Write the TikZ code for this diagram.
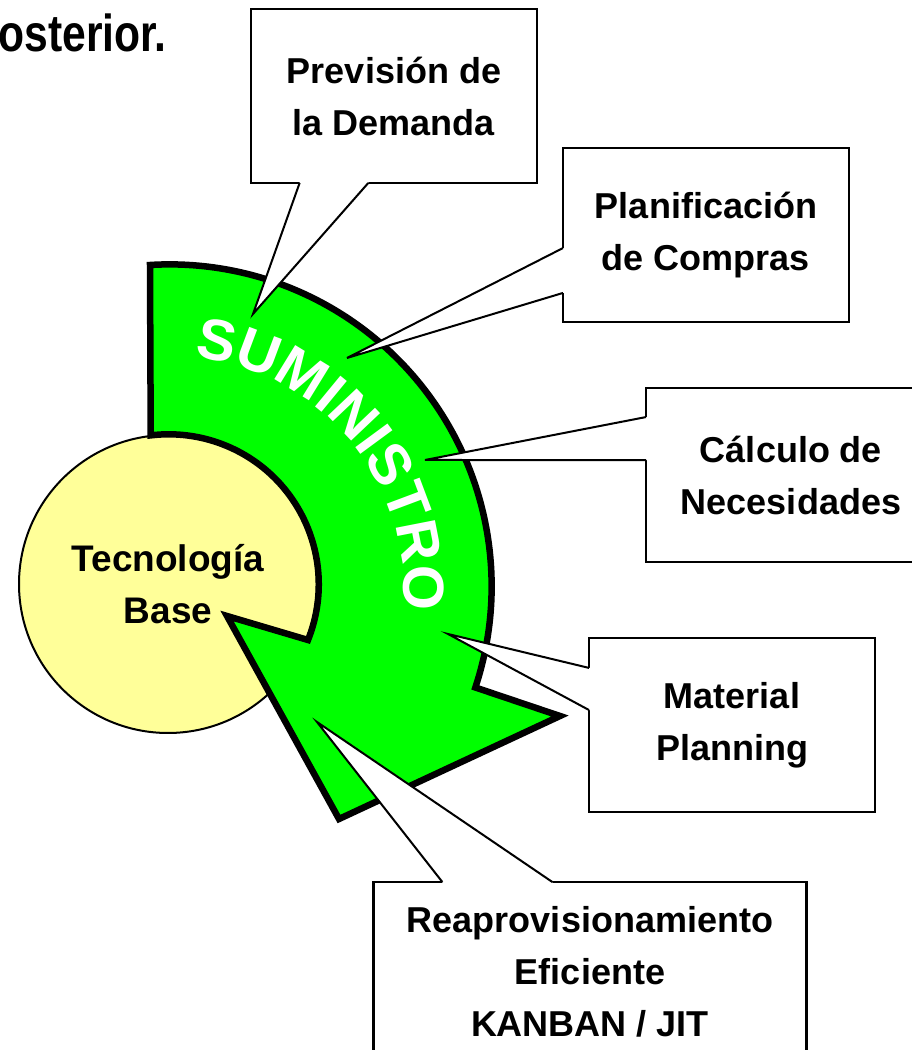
\documentclass[tikz,border=0pt]{standalone}
\usepackage{fontspec}
\setmainfont{Liberation Sans}
\usetikzlibrary{calc}
\usetikzlibrary{decorations.text}

\definecolor{supplygreen}{RGB}{0,255,0}
\definecolor{baseyellow}{RGB}{255,255,153}

\begin{document}
\begin{tikzpicture}[x=1pt, y=1pt,
    calloutbox/.style={rectangle, draw, line width=2.4pt, fill=white, minimum width=286pt,
      minimum height=174pt, inner sep=0pt, outer sep=0pt, align=center,
      font=\fontsize{36}{52}\selectfont\bfseries},
    pointer/.style={line width=2pt},
    supply/.style={draw, line width=6.5pt, fill=supplygreen},
    techbase/.style={circle, draw, line width=2pt, fill=baseyellow, minimum size=298pt,
      inner sep=0pt, align=center, font=\fontsize{37}{52}\selectfont\bfseries}]
  \useasboundingbox (0,0) rectangle (912,1050);
  \clip (0,0) rectangle (912,1050);

  % what is left of the heading
  \node[anchor=base east, inner sep=0pt, font=\fontsize{52}{60}\selectfont\bfseries]
    (posterior) at (167,998) {\scalebox{0.82}[1]{osterior.}};

  % core
  \node[techbase] (tech) at (168,466) {Tecnología\\Base};

  % curved arrow round the core
  \draw[supply] (150,785) arc[start angle=93.5, end angle=-18.3, radius=322]
    -- (560,334) -- (339,231) -- (227,434) -- (308,410)
    arc[start angle=-21.8, end angle=96.9, radius=150] -- cycle;
  \path[decorate, decoration={text along path, text align=center,
      text={|\fontsize{58}{58}\selectfont\bfseries\color{white}|SUMINISTRO}}]
    (170,460) ++(96:234) arc[start angle=96, end angle=-17, radius=234];

  % callouts
  \node[calloutbox] (prevision) at (394,954) {Previsión de\\la Demanda};
  \node[calloutbox] (compras) at (706,815) {Planificación\\de Compras};
  \node[calloutbox, minimum width=290pt] (calculo) at (791,575) {Cálculo de\\Necesidades};
  \node[calloutbox] (material) at (732,325) {Material\\Planning};
  \node[calloutbox, minimum width=433pt, minimum height=180pt] (kanban) at (590,78)
    {Reaprovisionamiento\\Eficiente\\KANBAN / JIT};

  \coordinate (tip-prevision) at (253,736);
  \coordinate (tip-compras) at (347,692);
  \coordinate (tip-calculo) at (425,590);
  \coordinate (tip-material) at (448,416);
  \coordinate (tip-kanban) at (317,328);

  \coordinate (prevision-a) at ($(prevision.south west)!0.17!(prevision.south east)$);
  \coordinate (prevision-b) at ($(prevision.south west)!0.41!(prevision.south east)$);
  \fill[white] ($(prevision-a)+(0,4)$) -- (prevision-a) -- (tip-prevision) -- (prevision-b) -- ($(prevision-b)+(0,4)$) -- cycle;
  \draw[pointer] (prevision-a) -- (tip-prevision) -- (prevision-b);

  \coordinate (compras-a) at ($(compras.north west)!0.575!(compras.south west)$);
  \coordinate (compras-b) at ($(compras.north west)!0.833!(compras.south west)$);
  \fill[white] ($(compras-a)+(4,0)$) -- (compras-a) -- (tip-compras) -- (compras-b) -- ($(compras-b)+(4,0)$) -- cycle;
  \draw[pointer] (compras-a) -- (tip-compras) -- (compras-b);

  \coordinate (calculo-a) at ($(calculo.north west)!0.167!(calculo.south west)$);
  \coordinate (calculo-b) at ($(calculo.north west)!0.414!(calculo.south west)$);
  \fill[white] ($(calculo-a)+(4,0)$) -- (calculo-a) -- (tip-calculo) -- (calculo-b) -- ($(calculo-b)+(4,0)$) -- cycle;
  \draw[pointer] (calculo-a) -- (tip-calculo) -- (calculo-b);

  \coordinate (material-a) at ($(material.north west)!0.172!(material.south west)$);
  \coordinate (material-b) at ($(material.north west)!0.414!(material.south west)$);
  \fill[white] ($(material-a)+(4,0)$) -- (material-a) -- (tip-material) -- (material-b) -- ($(material-b)+(4,0)$) -- cycle;
  \draw[pointer] (material-a) -- (tip-material) -- (material-b);

  \coordinate (kanban-a) at ($(kanban.north west)!0.159!(kanban.north east)$);
  \coordinate (kanban-b) at ($(kanban.north west)!0.413!(kanban.north east)$);
  \fill[white] ($(kanban-a)+(0,-4)$) -- (kanban-a) -- (tip-kanban) -- (kanban-b) -- ($(kanban-b)+(0,-4)$) -- cycle;
  \draw[pointer] (kanban-a) -- (tip-kanban) -- (kanban-b);
\end{tikzpicture}
\end{document}
